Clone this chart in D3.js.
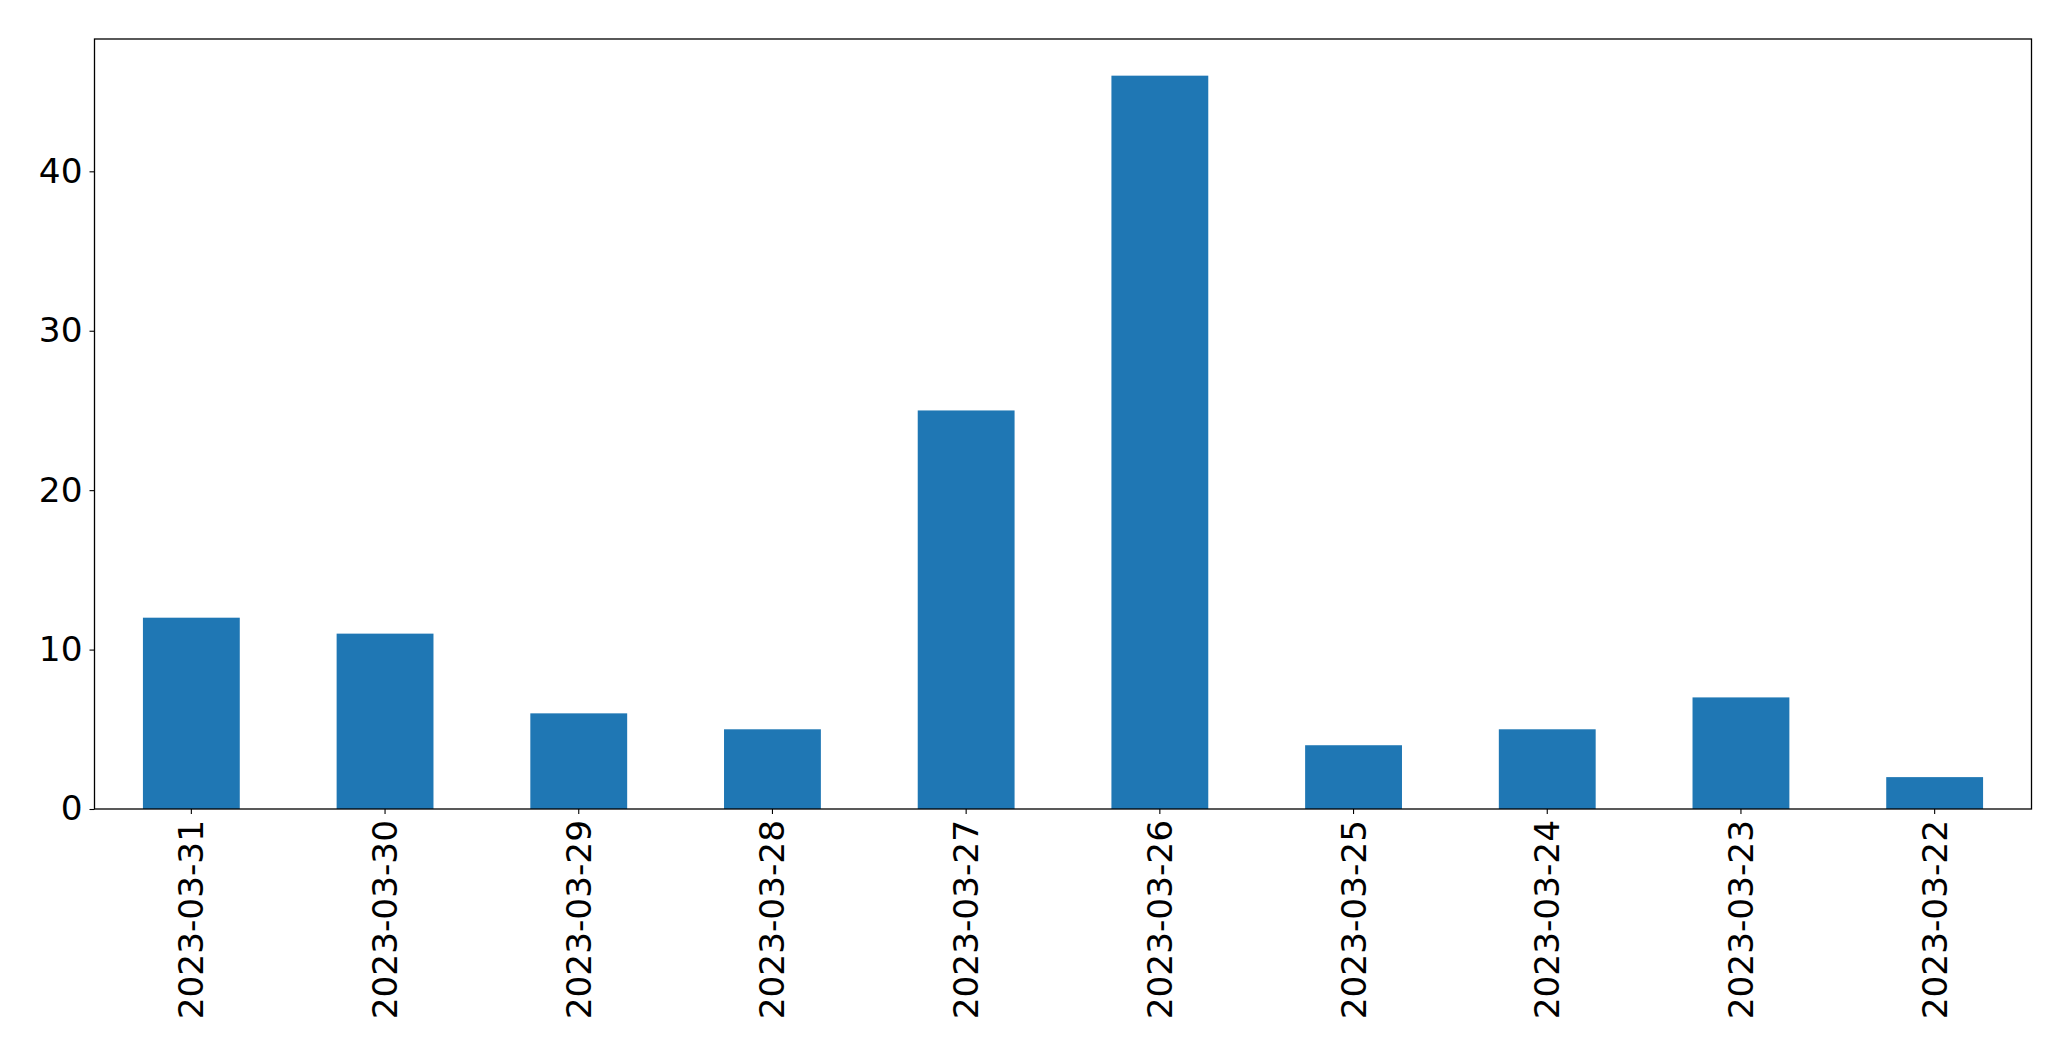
<!DOCTYPE html>
<html><head><meta charset="utf-8">
<script src="https://cdn.jsdelivr.net/npm/d3@7"></script>
<style>html,body{margin:0;padding:0;background:#fff;}</style>
</head><body>
<script>
const categories = ["2023-03-31","2023-03-30","2023-03-29","2023-03-28","2023-03-27","2023-03-26","2023-03-25","2023-03-24","2023-03-23","2023-03-22"];
const values = [12, 11, 6, 5, 25, 46, 4, 5, 7, 2];
const yTicks = [0, 10, 20, 30, 40];

(function () {
const W = 2071, H = 1061;
const pLeft = 94.5, pRight = 2031.5, pTop = 39, pBottom = 809;
const svg = d3.select("body").append("svg").attr("width", W).attr("height", H);

const x = d3.scaleBand().domain(categories).range([pLeft, pRight]).paddingInner(0.5).paddingOuter(0.25);
const y = d3.scaleLinear().domain([0, d3.max(values) * 1.05]).range([pBottom, pTop]);

svg.append("g").selectAll("rect").data(values).join("rect")
  .attr("x", (d, i) => x(categories[i]))
  .attr("width", x.bandwidth())
  .attr("y", d => y(d))
  .attr("height", d => y(0) - y(d))
  .attr("fill", "#1f77b4");

const font = "'DejaVu Sans', sans-serif";
const yAxis = svg.append("g").attr("transform", `translate(${pLeft},0)`)
  .call(d3.axisLeft(y).tickValues(yTicks).tickSize(5).tickPadding(7).tickFormat(d3.format("d")));
yAxis.select(".domain").remove();
yAxis.selectAll("line").attr("stroke", "#000").attr("stroke-width", 1.1);
yAxis.selectAll("text").attr("font-family", font).attr("font-size", 34.3).attr("fill", "#000");

const xAxis = svg.append("g").attr("transform", `translate(0,${pBottom})`)
  .call(d3.axisBottom(x).tickSize(5).tickPadding(0));
xAxis.select(".domain").remove();
xAxis.selectAll("line").attr("stroke", "#000").attr("stroke-width", 1.1);
xAxis.selectAll("text")
  .attr("font-family", font).attr("font-size", 34.3).attr("fill", "#000")
  .attr("text-anchor", "end").attr("dy", "0.35em")
  .attr("transform", "translate(0,11) rotate(-90)")
  .attr("x", 0).attr("y", 0);

svg.append("rect").attr("x", pLeft).attr("y", pTop).attr("width", pRight - pLeft).attr("height", pBottom - pTop)
  .attr("fill", "none").attr("stroke", "#000").attr("stroke-width", 1.3);
})();
</script>
</body></html>
